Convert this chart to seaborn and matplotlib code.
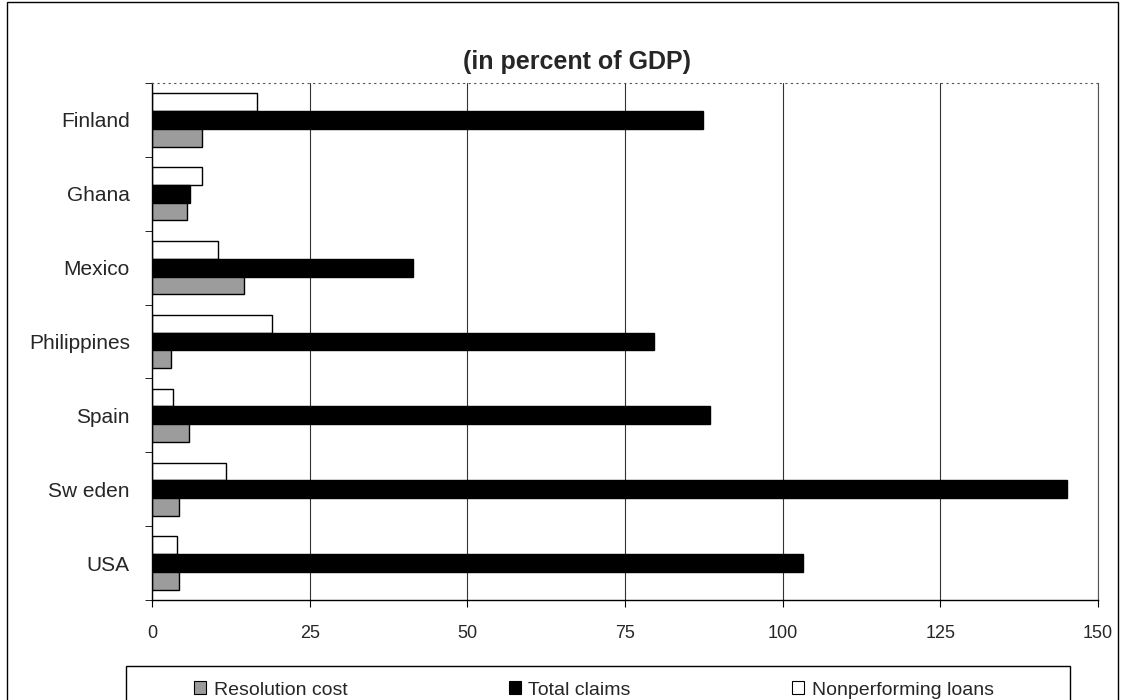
import numpy as np
import pandas as pd
import matplotlib
matplotlib.use('Agg')
import matplotlib.pyplot as plt
import seaborn as sns
from matplotlib.patches import Patch, Rectangle

# values (percent of GDP)
countries = ['Finland', 'Ghana', 'Mexico', 'Philippines', 'Spain', 'Sw eden', 'USA']
resolution_cost = [8.0, 5.6, 14.6, 3.0, 5.9, 4.3, 4.3]
total_claims = [87.4, 6.1, 41.4, 79.6, 88.5, 145.1, 103.3]
nonperforming_loans = [16.6, 8.0, 10.4, 19.1, 3.3, 11.7, 4.0]

series_names = ['Resolution cost', 'Total claims', 'Nonperforming loans']
series_colors = ['#9c9c9c', '#000000', '#ffffff']

df = pd.DataFrame({
    'country': countries * 3,
    'series': [s for s in series_names for _ in countries],
    'value': resolution_cost + total_claims + nonperforming_loans,
})

sns.set_style('white')
plt.rcParams['font.family'] = ['Liberation Sans', 'DejaVu Sans']

W, H = 1125, 700
fig = plt.figure(figsize=(W / 100, H / 100), dpi=100)
ax = fig.add_axes([152 / W, 1 - 600 / H, 946 / W, 517 / H])

# top-to-bottom inside each group: NPL, total claims, resolution cost
hue_order = series_names[::-1]
pal = dict(zip(series_names, series_colors))
sns.barplot(data=df, y='country', x='value', hue='series', hue_order=hue_order,
            palette=pal, orient='h', width=0.72, edgecolor='black',
            linewidth=1, legend=False, ax=ax, saturation=1)

ax.set_xlim(0, 150)
ax.set_xticks(np.arange(0, 151, 25))
ax.set_xlabel('')
ax.set_ylabel('')
ax.grid(axis='x', color='#333333', linewidth=0.8)
ax.set_axisbelow(True)
ax.spines['top'].set_visible(True)
ax.spines['top'].set_linestyle((0, (1, 4)))
ax.spines['top'].set_color('#555555')
ax.spines['right'].set_visible(True)
ax.spines['right'].set_linestyle((0, (2, 1)))
ax.spines['right'].set_color('#555555')
for s in ['left', 'bottom']:
    ax.spines[s].set_color('black')
    ax.spines[s].set_linewidth(1)

ax.set_yticks(np.arange(-0.5, len(countries)), minor=True)
ax.tick_params(axis='y', which='major', length=0, labelsize=15, pad=16)
ax.tick_params(axis='y', which='minor', left=True, length=5, color='black')
ax.tick_params(axis='x', bottom=True, length=5, color='black', labelsize=13, pad=13)

fig.text(577 / W, 1 - 62 / H, '(in percent of GDP)', fontsize=18, fontweight='bold',
         ha='center', va='center')

# legend box at the bottom (cut by the image edge as in the original)
fig.patches.append(Rectangle((126 / W, -0.02), 944 / W, 0.02 + 34 / H,
                             transform=fig.transFigure, fill=False,
                             edgecolor='black', linewidth=1))
handles = [Patch(facecolor=c, edgecolor='black', linewidth=0.8) for c in series_colors]
fig.legend(handles, series_names, loc='center', ncol=3,
           bbox_to_anchor=(594 / W, 1 - 690 / H), frameon=False, fontsize=14,
           handlelength=0.6, handleheight=0.6, handletextpad=0.4,
           columnspacing=8.3, borderpad=0)

# outer chart border
fig.patches.append(Rectangle((7 / W, -0.02), 1111 / W, 1.017, transform=fig.transFigure,
                             fill=False, edgecolor='black', linewidth=1))

fig.savefig('out.png', dpi=100)
